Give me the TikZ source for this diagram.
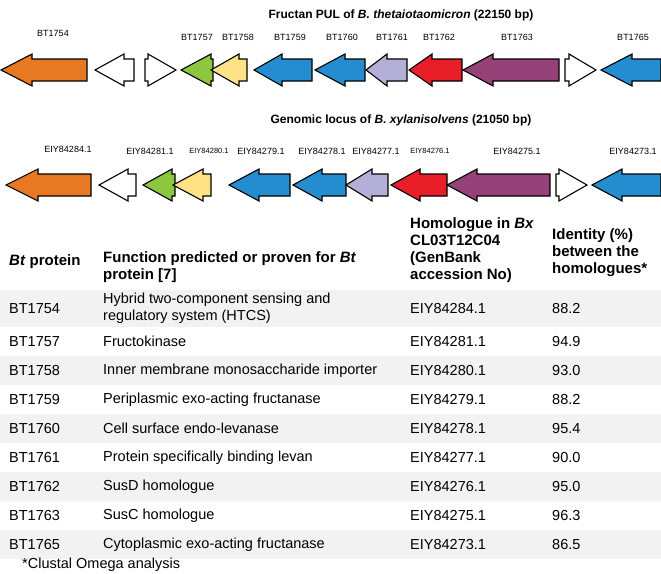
\documentclass[tikz,border=0pt]{standalone}
\usepackage{fontspec}
\setmainfont{Liberation Sans}
\definecolor{gorange}{RGB}{232,121,36}
\definecolor{ggreen}{RGB}{141,198,63}
\definecolor{gyellow}{RGB}{255,226,133}
\definecolor{gblue}{RGB}{35,141,208}
\definecolor{glav}{RGB}{180,175,215}
\definecolor{gred}{RGB}{232,30,40}
\definecolor{gpurple}{RGB}{150,65,120}
\definecolor{rowgray}{RGB}{242,242,242}
\tikzset{
  gene/.style={draw=black, line width=1.1pt, line join=miter},
  glab/.style={font=\fontsize{9}{10}\selectfont, inner sep=0pt},
  gsmall/.style={font=\fontsize{7.5}{9}\selectfont, inner sep=0pt},
  ttl/.style={font=\fontsize{12}{14}\selectfont\bfseries, inner sep=0pt},
  hdr/.style={font=\fontsize{15}{17}\selectfont\bfseries, inner sep=0pt, anchor=west, align=left},
  cell/.style={font=\fontsize{14.5}{17}\selectfont, inner sep=0pt, anchor=west, align=left}
}
\newcommand{\geneL}[5]{\draw[gene, fill=#5] (#1,#4) -- (#2,#4-16) -- (#2,#4-11) -- (#3,#4-11) -- (#3,#4+11) -- (#2,#4+11) -- (#2,#4+16) -- cycle;}
\newcommand{\geneR}[5]{\draw[gene, fill=#5] (#1,#4-11) -- (#2,#4-11) -- (#2,#4-16) -- (#3,#4) -- (#2,#4+16) -- (#2,#4+11) -- (#1,#4+11) -- cycle;}
\begin{document}
\begin{tikzpicture}[x=1pt,y=-1pt]
\useasboundingbox (0,0) rectangle (661,573);
\fill[white] (0,0) rectangle (661,573);
% ---------- row 1 ----------
\node[ttl] (t1) at (401,15) {Fructan PUL of \textit{B. thetaiotaomicron} (22150 bp)};
\node[glab] (l1754) at (53,33) {BT1754};
\node[glab] (l1757) at (197,37) {BT1757};
\node[glab] (l1758) at (238,37) {BT1758};
\node[glab] (l1759) at (290,37) {BT1759};
\node[glab] (l1760) at (342,37) {BT1760};
\node[glab] (l1761) at (392,37) {BT1761};
\node[glab] (l1762) at (439,37) {BT1762};
\node[glab] (l1763) at (517,37) {BT1763};
\node[glab] (l1765) at (633,37) {BT1765};
\geneL{1}{32}{87}{70}{gorange}
\geneL{95}{124}{134}{70}{white}
\geneR{145}{148}{176}{70}{white}
\geneL{181}{211}{213}{70}{ggreen}
\geneL{211}{239}{247}{70}{gyellow}
\geneL{254}{282}{312}{70}{gblue}
\geneL{315}{345}{365}{70}{gblue}
\geneL{366}{387}{407}{70}{glav}
\geneL{409}{432}{462}{70}{gred}
\geneL{463}{493}{559}{70}{gpurple}
\geneR{565}{569}{596}{70}{white}
\geneL{601}{632}{661}{70}{gblue}
% ---------- row 2 ----------
\node[ttl] (t2) at (401,120) {Genomic locus of \textit{B. xylanisolvens} (21050 bp)};
\node[glab] (e84284) at (68,149) {EIY84284.1};
\node[glab] (e84281) at (150,151) {EIY84281.1};
\node[gsmall] (e84280) at (209,151) {EIY84280.1};
\node[glab] (e84279) at (261,151) {EIY84279.1};
\node[glab] (e84278) at (322,151) {EIY84278.1};
\node[glab] (e84277) at (376,151) {EIY84277.1};
\node[gsmall] (e84276) at (430,151) {EIY84276.1};
\node[glab] (e84275) at (517,151) {EIY84275.1};
\node[glab] (e84273) at (633,151) {EIY84273.1};
\geneL{6}{38}{91}{185}{gorange}
\geneL{99}{128}{136}{185}{white}
\geneL{143}{172}{175}{185}{ggreen}
\geneL{173}{203}{211}{185}{gyellow}
\geneL{229}{259}{290}{185}{gblue}
\geneL{293}{322}{346}{185}{gblue}
\geneL{346}{372}{388}{185}{glav}
\geneL{391}{420}{447}{185}{gred}
\geneL{447}{477}{550}{185}{gpurple}
\geneR{556}{559}{587}{185}{white}
\geneL{592}{622}{661}{185}{gblue}
% ---------- table ----------
\fill[rowgray] (0,290) rectangle (661,327);
\fill[rowgray] (0,356) rectangle (661,385);
\fill[rowgray] (0,414) rectangle (661,443);
\fill[rowgray] (0,472) rectangle (661,501);
\fill[rowgray] (0,530) rectangle (661,559);
\node[hdr] (h1) at (9,262) {\textit{Bt} protein};
\node[hdr] (h2) at (103,267.5) {Function predicted or proven for \textit{Bt}\\protein [7]};
\node[hdr] (h3) at (410,250.5) {Homologue in \textit{Bx}\\CL03T12C04\\(GenBank\\accession No)};
\node[hdr] (h4) at (552,253) {Identity (\%)\\between the\\homologues*};
% rows
\node[cell] (a1) at (9,308.5) {BT1754};
\node[cell] (b1) at (103,308.5) {Hybrid two-component sensing and\\regulatory system (HTCS)};
\node[cell] (c1) at (410,308.5) {EIY84284.1};
\node[cell] (d1) at (552,308.5) {88.2};
\node[cell] (a2) at (9,341.5) {BT1757};
\node[cell] (b2) at (103,341.5) {Fructokinase};
\node[cell] (c2) at (410,341.5) {EIY84281.1};
\node[cell] (d2) at (552,341.5) {94.9};
\node[cell] (a3) at (9,370.5) {BT1758};
\node[cell] (b3) at (103,370.5) {Inner membrane monosaccharide importer};
\node[cell] (c3) at (410,370.5) {EIY84280.1};
\node[cell] (d3) at (552,370.5) {93.0};
\node[cell] (a4) at (9,399.5) {BT1759};
\node[cell] (b4) at (103,399.5) {Periplasmic exo-acting fructanase};
\node[cell] (c4) at (410,399.5) {EIY84279.1};
\node[cell] (d4) at (552,399.5) {88.2};
\node[cell] (a5) at (9,428.5) {BT1760};
\node[cell] (b5) at (103,428.5) {Cell surface endo-levanase};
\node[cell] (c5) at (410,428.5) {EIY84278.1};
\node[cell] (d5) at (552,428.5) {95.4};
\node[cell] (a6) at (9,457.5) {BT1761};
\node[cell] (b6) at (103,457.5) {Protein specifically binding levan};
\node[cell] (c6) at (410,457.5) {EIY84277.1};
\node[cell] (d6) at (552,457.5) {90.0};
\node[cell] (a7) at (9,486.5) {BT1762};
\node[cell] (b7) at (103,486.5) {SusD homologue};
\node[cell] (c7) at (410,486.5) {EIY84276.1};
\node[cell] (d7) at (552,486.5) {95.0};
\node[cell] (a8) at (9,515.5) {BT1763};
\node[cell] (b8) at (103,515.5) {SusC homologue};
\node[cell] (c8) at (410,515.5) {EIY84275.1};
\node[cell] (d8) at (552,515.5) {96.3};
\node[cell] (a9) at (9,544.5) {BT1765};
\node[cell] (b9) at (103,544.5) {Cytoplasmic exo-acting fructanase};
\node[cell] (c9) at (410,544.5) {EIY84273.1};
\node[cell] (d9) at (552,544.5) {86.5};
\node[cell] (fn) at (22,565) {*Clustal Omega analysis};
\end{tikzpicture}
\end{document}
